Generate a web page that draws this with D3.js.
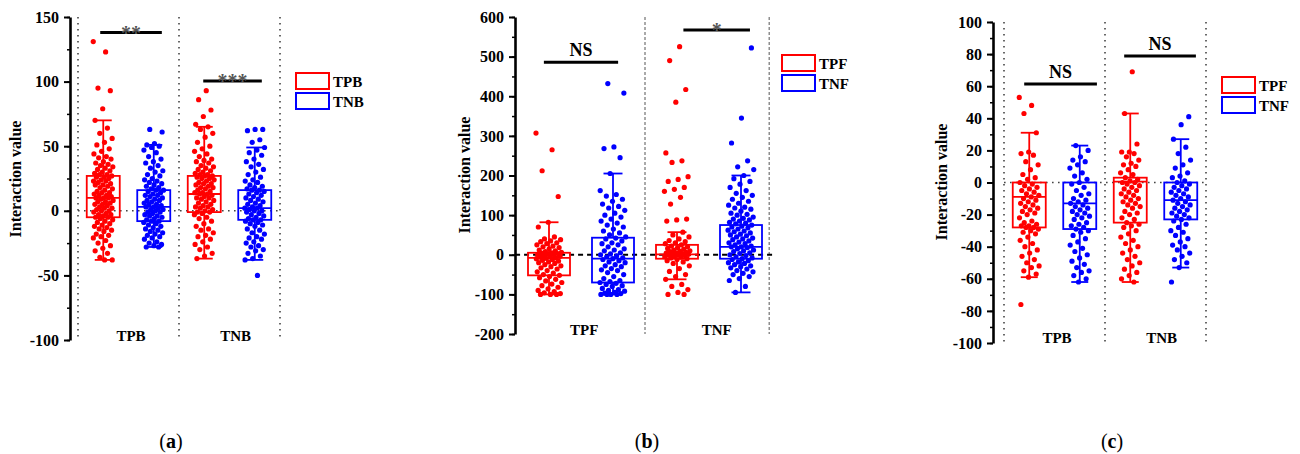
<!DOCTYPE html>
<html>
<head>
<meta charset="utf-8">
<script src="https://cdn.jsdelivr.net/npm/d3@7"></script>
<style>
  body { margin: 0; background: #fff; }
  svg text { font-family: "Liberation Serif", "Times New Roman", serif; }
</style>
</head>
<body>
<div id="chart"></div>
<script>
// ---- data ----
const panelLetters = ["a", "b", "c"];
const groupLabelsA = ["TPB", "TNB"];
const groupLabelsB = ["TPF", "TNF"];
const groupLabelsC = ["TPB", "TNB"];
const legendA = ["TPB", "TNB"];
const legendB = ["TPF", "TNF"];
const legendC = ["TPF", "TNF"];

const ticksA = [-100, -50, 0, 50, 100, 150];
const ticksB = [-200, -100, 0, 100, 200, 300, 400, 500, 600];
const ticksC = [-100, -80, -60, -40, -20, 0, 20, 40, 60, 80, 100];

// box stats: [whiskerLow, q1, median, q3, whiskerHigh]
const boxA = [[-38, -5, 10, 27, 70], [-28, -8, 3, 16, 51], [-37, -1, 13, 27, 65], [-38, -7, 2, 16, 49]];
const boxB = [[-100, -52, -8, 5, 82], [-100, -70, -10, 43, 205], [-62, -10, 1, 25, 57], [-95, -10, 20, 75, 200]];
const boxC = [[-59, -28, -9, 0, 31], [-62, -29, -13, 0, 23], [-62, -25, 0.5, 3, 43], [-53, -23, -11, 0, 27]];

// significance: [label, value]
const sigA = [["**", 138], ["***", 100.5]];
const sigB = [["NS", 486], ["*", 567]];
const sigC = [["NS", 61.4], ["NS", 78.8]];

// points
const ptsA_TPB_red = [131,123,95,93,79,70,64,60,56,53,51,48,46,44,42,41,40,38,37,36,35,34,33,32,31,30,29,28,28,27,26,26,25,24,23,23,22,21,20,20,19,18,17,16,15,14,14,13,12,12,11,10,10,10,9,8,7,7,6,5,5,4,3,2,2,1,0,0,-1,-2,-3,-3,-4,-5,-5,-6,-7,-8,-9,-10,-11,-12,-13,-14,-15,-16,-18,-19,-20,-21,-23,-25,-27,-29,-31,-33,-36,-38,-38];
const ptsA_TPB_blue = [63,61,52,51,50,49,47,45,42,40,38,37,35,33,31,30,28,27,25,24,23,22,21,20,19,18,17,16,16,15,14,13,12,12,11,10,9,8,8,7,6,5,5,4,3,3,2,1,1,0,-1,-1,-2,-3,-4,-4,-5,-6,-7,-8,-8,-9,-10,-11,-12,-13,-14,-15,-16,-17,-18,-19,-20,-21,-22,-24,-25,-26,-27,-28,-28];
const ptsA_TNB_red = [93,86,78,73,67,65,63,60,57,53,50,48,46,44,42,40,39,38,37,35,34,33,32,31,30,29,28,28,27,27,26,25,25,24,23,22,21,21,20,19,18,18,17,16,15,14,14,13,13,12,11,10,10,9,8,7,6,5,4,3,3,2,1,0,-1,-1,-2,-3,-5,-6,-8,-10,-12,-14,-15,-17,-19,-20,-22,-24,-26,-28,-30,-33,-35,-37];
const ptsA_TNB_blue = [63,63,62,55,53,49,47,45,43,40,38,36,34,32,30,28,26,24,23,22,20,19,18,17,16,16,15,14,13,12,11,10,9,8,7,6,5,4,3,2,2,1,0,0,-1,-2,-3,-4,-5,-6,-7,-7,-8,-9,-10,-11,-12,-14,-15,-17,-18,-20,-21,-22,-24,-25,-27,-28,-30,-31,-33,-35,-37,-38,-50];

const ptsB_TPF_red = [307,265,212,147,82,70,45,40,38,35,33,30,28,25,22,20,18,15,12,10,8,6,5,4,3,2,1,0,-2,-4,-5,-6,-8,-9,-10,-12,-14,-16,-18,-20,-22,-25,-28,-30,-33,-36,-40,-43,-46,-50,-52,-55,-58,-62,-66,-70,-74,-78,-82,-86,-90,-93,-96,-98,-100,-100,-100];
const ptsB_TPF_blue = [432,408,272,268,245,205,162,152,148,140,135,128,122,118,112,105,100,95,90,85,80,75,70,65,60,55,50,45,42,40,35,30,28,25,20,15,12,10,5,2,0,-3,-5,-8,-10,-12,-15,-18,-20,-25,-28,-30,-35,-38,-40,-45,-50,-55,-60,-65,-68,-70,-72,-75,-78,-80,-85,-88,-90,-92,-95,-97,-98,-100,-100,-100,-100];
const ptsB_TNF_red = [525,490,417,385,257,237,233,197,190,185,170,165,160,145,128,90,88,85,57,50,45,40,36,33,30,28,25,22,20,18,16,14,12,10,9,8,6,5,4,3,2,1,0,-1,-2,-3,-5,-6,-8,-10,-12,-15,-18,-22,-28,-35,-42,-50,-55,-62,-75,-80,-88,-95,-100,-100];
const ptsB_TNF_blue = [522,345,282,237,222,215,200,192,185,178,170,162,155,150,145,140,135,130,125,120,118,115,110,105,102,100,95,92,90,88,85,82,80,78,75,72,70,68,65,62,60,58,55,52,50,48,45,42,40,38,35,32,30,28,25,22,20,20,18,15,12,10,8,5,3,0,-2,-5,-8,-10,-12,-15,-18,-20,-22,-25,-28,-30,-33,-36,-40,-43,-47,-50,-55,-60,-65,-80,-95];

const ptsC_TPB_red = [53,48,43,31,19,18,17,13,11,8,5,3,2,0,-1,-2,-3,-4,-5,-6,-7,-8,-9,-10,-11,-12,-13,-14,-15,-16,-17,-18,-19,-20,-22,-24,-25,-26,-27,-27,-28,-28,-29,-30,-31,-32,-34,-36,-38,-40,-42,-44,-46,-48,-50,-52,-53,-55,-57,-59,-76];
const ptsC_TPB_blue = [23,20,16,14,13,11,9,6,4,2,0,-1,-3,-5,-7,-8,-10,-11,-12,-13,-14,-15,-16,-17,-18,-19,-20,-21,-22,-23,-25,-26,-27,-28,-29,-30,-31,-33,-35,-37,-39,-41,-43,-45,-47,-49,-51,-53,-55,-56,-58,-60,-62];
const ptsC_TNB_red = [69,43,24,19,19,18,16,14,12,11,10,8,6,5,3,2,1,0,0,-1,-2,-3,-4,-5,-6,-7,-8,-9,-10,-11,-12,-13,-14,-15,-16,-18,-19,-20,-22,-23,-25,-26,-27,-28,-30,-32,-34,-36,-38,-40,-42,-44,-46,-48,-50,-52,-54,-56,-58,-60,-62];
const ptsC_TNB_blue = [41,36,27,22,18,14,11,9,6,4,3,1,0,-1,-2,-3,-4,-5,-6,-7,-8,-9,-10,-11,-12,-13,-14,-15,-16,-17,-18,-19,-20,-21,-22,-23,-24,-26,-28,-30,-31,-33,-35,-37,-39,-40,-42,-44,-46,-48,-50,-53,-62];

const RED = "#ff0000", BLUE = "#0000ff";
const colors = [RED, BLUE, RED, BLUE];

// layout per panel
const panels = [
  { letter: panelLetters[0], axisX: 70, xr: [78, 280], yr: [340, 17], dom: [-100, 150], ticks: ticksA, minor: 25,
    boxes: boxA, pts: [ptsA_TPB_red, ptsA_TPB_blue, ptsA_TNB_red, ptsA_TNB_blue], groups: groupLabelsA, legend: legendA,
    sig: sigA, sigSpan: [[0.44, 1.66], [2.48, 3.64]], boxW: 33, capW: 17, jitter: 10, dotted: true,
    vlines: [0, 2, 4], zeroFrom: 0, legendX: 296, legendY: 73, yLabelX: 21, yLabelY: 179, catY: 341, letterX: 171 },
  { letter: panelLetters[1], axisX: 515, xr: [517, 773], yr: [334, 17], dom: [-200, 600], ticks: ticksB, minor: 50,
    boxes: boxB, pts: [ptsB_TPF_red, ptsB_TPF_blue, ptsB_TNF_red, ptsB_TNF_blue], groups: groupLabelsB, legend: legendB,
    sig: sigB, sigSpan: [[0.42, 1.58], [2.6, 3.64]], boxW: 42, capW: 19, jitter: 13, dotted: false,
    vlines: [2, 3.94], zeroFrom: -0.03, legendX: 782, legendY: 55, yLabelX: 470, yLabelY: 175, catY: 335, letterX: 647 },
  { letter: panelLetters[2], axisX: 993, xr: [1004, 1206], yr: [343, 22], dom: [-100, 100], ticks: ticksC, minor: 10,
    boxes: boxC, pts: [ptsC_TPB_red, ptsC_TPB_blue, ptsC_TNB_red, ptsC_TNB_blue], groups: groupLabelsC, legend: legendC,
    sig: sigC, sigSpan: [[0.4, 1.84], [2.38, 3.8]], boxW: 33, capW: 17, jitter: 10, dotted: true,
    vlines: [0, 2, 4], zeroFrom: 0, legendX: 1222, legendY: 77, yLabelX: 947, yLabelY: 182, catY: 343, letterX: 1112 }
];

const svg = d3.select("#chart").append("svg")
  .attr("width", 1300).attr("height", 454);

panels.forEach((p) => {
  const g = svg.append("g");
  const x = d3.scaleLinear().domain([0, 4]).range(p.xr);
  const y = d3.scaleLinear().domain(p.dom).range(p.yr);

  // separator lines
  g.selectAll(".vline").data(p.vlines).join("line")
    .attr("x1", (d) => x(d)).attr("x2", (d) => x(d))
    .attr("y1", p.yr[1]).attr("y2", p.yr[0])
    .attr("stroke", p.dotted ? "#444" : "#555")
    .attr("stroke-width", p.dotted ? 1.6 : 1)
    .attr("stroke-dasharray", p.dotted ? "1.6,4.4" : "3,2");

  // zero reference line
  g.append("line")
    .attr("x1", x(p.zeroFrom)).attr("x2", x(4))
    .attr("y1", y(0)).attr("y2", y(0))
    .attr("stroke", p.dotted ? "#444" : "#000")
    .attr("stroke-width", p.dotted ? 1.6 : 1.8)
    .attr("stroke-dasharray", p.dotted ? "1.6,4.4" : "5,4");

  // points
  p.pts.forEach((vals, gi) => {
    const cx = x(gi + 0.5);
    g.append("g").selectAll("circle").data(vals).join("circle")
      .attr("cx", (d, i) => cx + (((i * 0.618034 + gi * 0.3) % 1) - 0.5) * 2 * p.jitter)
      .attr("cy", (d) => y(d))
      .attr("r", 2.6)
      .attr("fill", colors[gi]);
  });

  // boxes
  p.boxes.forEach((b, gi) => {
    const cx = x(gi + 0.5);
    const col = colors[gi];
    const bg = g.append("g").attr("stroke", col).attr("fill", "none").attr("stroke-width", 1.8);
    bg.append("line").attr("x1", cx).attr("x2", cx).attr("y1", y(b[3])).attr("y2", y(b[4]));
    bg.append("line").attr("x1", cx).attr("x2", cx).attr("y1", y(b[0])).attr("y2", y(b[1]));
    bg.append("line").attr("x1", cx - p.capW / 2).attr("x2", cx + p.capW / 2).attr("y1", y(b[4])).attr("y2", y(b[4]));
    bg.append("line").attr("x1", cx - p.capW / 2).attr("x2", cx + p.capW / 2).attr("y1", y(b[0])).attr("y2", y(b[0]));
    bg.append("rect").attr("x", cx - p.boxW / 2).attr("width", p.boxW)
      .attr("y", y(b[3])).attr("height", y(b[1]) - y(b[3]));
    bg.append("line").attr("x1", cx - p.boxW / 2).attr("x2", cx + p.boxW / 2).attr("y1", y(b[2])).attr("y2", y(b[2]));
  });

  // y axis: minor ticks then major ticks
  const minorTicks = d3.range(p.dom[0], p.dom[1] + 0.001, p.minor);
  g.append("g").attr("transform", `translate(${p.axisX},0)`)
    .call(d3.axisLeft(y).tickValues(minorTicks).tickSize(3).tickSizeOuter(0).tickFormat(""))
    .call((a) => a.select(".domain").remove())
    .call((a) => a.selectAll("line").attr("stroke-width", 1.5));
  const ax = g.append("g").attr("transform", `translate(${p.axisX},0)`)
    .call(d3.axisLeft(y).tickValues(p.ticks).tickSize(6).tickSizeOuter(0).tickPadding(5)
      .tickFormat((d) => String(d)));
  ax.select(".domain").attr("stroke-width", 2.6);
  ax.selectAll("line").attr("stroke-width", 2);
  ax.selectAll("text").attr("font-family", "Liberation Serif").attr("font-size", 16)
    .attr("font-weight", "bold").attr("fill", "#000");

  // y label
  g.append("text")
    .attr("transform", `translate(${p.yLabelX},${p.yLabelY}) rotate(-90)`)
    .attr("text-anchor", "middle").attr("font-size", 16).attr("font-weight", "bold")
    .text("Interaction value");

  // category labels
  g.selectAll(".cat").data(p.groups).join("text")
    .attr("x", (d, i) => x(i === 0 ? 1.05 : 3.12)).attr("y", p.catY)
    .attr("text-anchor", "middle").attr("font-size", 15).attr("font-weight", "bold")
    .text((d) => d);

  // significance bars
  p.sig.forEach((s, i) => {
    const [x0, x1] = p.sigSpan[i];
    const yy = y(s[1]);
    g.append("line").attr("x1", x(x0)).attr("x2", x(x1)).attr("y1", yy).attr("y2", yy)
      .attr("stroke", "#000").attr("stroke-width", 3);
    const isStar = s[0].startsWith("*");
    g.append("text")
      .attr("x", (x(x0) + x(x1)) / 2)
      .attr("y", isStar ? yy + 7 : yy - 6)
      .attr("text-anchor", "middle")
      .attr("font-size", isStar ? 20 : 18).attr("font-weight", "bold")
      .attr("fill", isStar ? "#555" : "#000")
      .text(s[0]);
  });

  // legend
  p.legend.forEach((name, i) => {
    const ly = p.legendY + i * 20;
    g.append("rect").attr("x", p.legendX).attr("y", ly).attr("width", 33).attr("height", 16)
      .attr("fill", "none").attr("stroke", i === 0 ? RED : BLUE).attr("stroke-width", 2);
    g.append("text").attr("x", p.legendX + 37).attr("y", ly + 14)
      .attr("font-size", 15).attr("font-weight", "bold").text(name);
  });

  // panel letter
  const lt = svg.append("text").attr("x", p.letterX).attr("y", 448)
    .attr("text-anchor", "middle").attr("font-size", 20);
  lt.append("tspan").text("(");
  lt.append("tspan").attr("font-weight", "bold").text(p.letter);
  lt.append("tspan").text(")");
});
</script>
</body>
</html>
